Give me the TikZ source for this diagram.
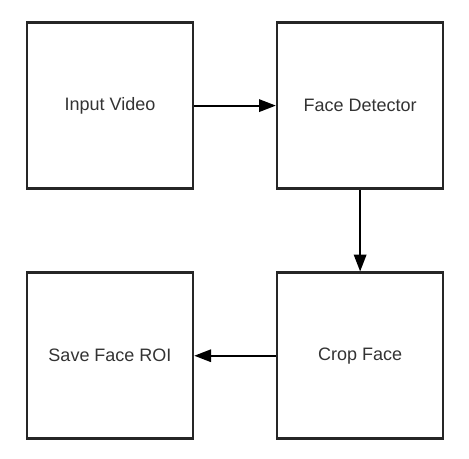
\documentclass[tikz,border=0pt]{standalone}
\usepackage{fontspec}
\setmainfont{Liberation Sans}
\usetikzlibrary{arrows.meta,positioning}
\begin{document}
\begin{tikzpicture}[line width=1.4pt,>={Triangle[length=0.42cm,width=0.31cm]}]
\tikzset{stage/.style={draw=black!85,line width=1.8pt,minimum width=4.15cm,minimum height=4.15cm,
    inner sep=0pt,text=black!80,font=\fontsize{12.8}{15}\selectfont},
  flow/.style={line width=1.4pt,->}}
\useasboundingbox (0,0) rectangle (11.725,-11.45);
% ---------- the four stages ----------
\node[stage] (input) at (2.75,-2.64) {Input Video};
\node[stage,right=2.04cm of input] (detector) {Face Detector};
\node[stage,below=2.04cm of detector] (crop) {Crop Face};
\node[stage,left=2.04cm of crop] (save) {Save Face ROI};
% ---------- flow ----------
\draw[flow] (input) -- (detector);
\draw[flow] (detector) -- (crop);
\draw[flow] (crop) -- (save);
\end{tikzpicture}
\end{document}
